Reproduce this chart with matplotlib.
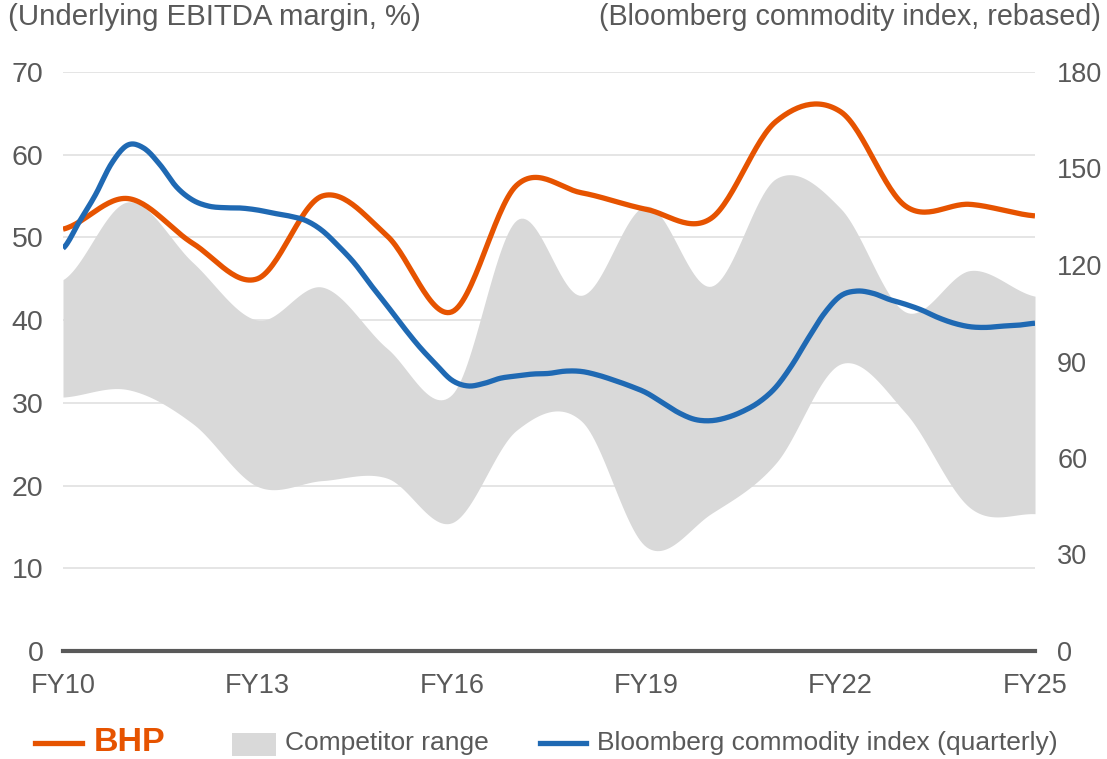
import numpy as np
import matplotlib
matplotlib.use("Agg")
import matplotlib.pyplot as plt
from matplotlib.lines import Line2D
from matplotlib.patches import Rectangle

plt.rcParams['font.family'] = ['Liberation Sans', 'DejaVu Sans']

# ---------------- data ----------------
years = list(range(2010, 2026))
tick_years = [2010, 2013, 2016, 2019, 2022, 2025]
tick_labels = ["FY10", "FY13", "FY16", "FY19", "FY22", "FY25"]

bhp_margin = [51.0, 54.7, 49.3, 45.0, 55.0, 50.2, 41.0, 56.3, 55.4, 53.4,
              52.3, 64.0, 65.2, 53.8, 54.0, 52.6]
competitor_high = [44.9, 54.3, 47.0, 40.0, 44.0, 36.6, 31.0, 52.1, 43.0, 53.8,
                   44.1, 57.1, 53.5, 41.0, 46.0, 42.9]
competitor_low = [30.7, 31.6, 27.5, 19.9, 20.6, 20.9, 15.5, 26.7, 27.8, 12.6,
                  16.6, 22.7, 34.7, 28.8, 17.3, 16.6]

# Bloomberg commodity index (rebased), quarterly FY10 Q4 .. FY25 Q4
bcom_quarterly = [125.2, 133.4, 141.8, 151.6, 157.3, 156.3, 151.1, 144.3,
                  140.2, 138.3, 137.8, 137.7, 137.1, 136.1, 135.2, 133.8,
                  130.7, 125.9, 120.5, 113.8, 107.4, 100.8, 94.6, 89.2,
                  84.2, 82.4, 83.2, 84.8, 85.5, 86.1, 86.3, 87.0,
                  86.9, 85.8, 84.2, 82.4, 80.3, 77.2, 74.1, 72.0,
                  71.6, 72.6, 74.6, 77.5, 82.0, 88.9, 97.2, 105.0,
                  110.4, 111.9, 111.2, 109.3, 107.8, 106.0, 103.7, 101.9,
                  100.8, 100.6, 101.0, 101.3, 101.9]
bcom_x = [2010 + i / 4 for i in range(len(bcom_quarterly))]

# ---------------- smoothing (Excel-like Catmull-Rom) ----------------
def smooth(x, y, n=30):
    x = np.asarray(x, float)
    y = np.asarray(y, float)
    k = len(y)
    m = np.empty(k)
    m[1:-1] = (y[2:] - y[:-2]) / 2
    m[0] = (y[1] - y[0]) / 2
    m[-1] = (y[-1] - y[-2]) / 2
    xs, ys = [], []
    t = np.linspace(0, 1, n, endpoint=False)
    h00 = 2 * t**3 - 3 * t**2 + 1
    h10 = t**3 - 2 * t**2 + t
    h01 = -2 * t**3 + 3 * t**2
    h11 = t**3 - t**2
    for i in range(k - 1):
        xs.append(x[i] + t * (x[i + 1] - x[i]))
        ys.append(h00 * y[i] + h10 * m[i] + h01 * y[i + 1] + h11 * m[i + 1])
    xs.append([x[-1]])
    ys.append([y[-1]])
    return np.concatenate(xs), np.concatenate(ys)

ORANGE = '#E65300'
BLUE = '#1F69B3'
GRAY_FILL = '#D9D9D9'
TXT = '#595959'

fig = plt.figure(figsize=(11.07, 7.59), dpi=100)
ax = fig.add_axes([63 / 1107, 1 - 651 / 759, (1035 - 63) / 1107, (651 - 72) / 759])
ax2 = ax.twinx()

# competitor range
xh, yh = smooth(years, competitor_high)
xl, yl = smooth(years, competitor_low)
ax.fill_between(xh, yl, yh, color=GRAY_FILL, linewidth=0, zorder=1)

# BHP
xb, yb = smooth(years, bhp_margin)
ax.plot(xb, yb, color=ORANGE, lw=3.8, solid_capstyle='butt', zorder=3)

# Bloomberg
xq, yq = smooth(bcom_x, bcom_quarterly, n=12)
ax2.plot(xq, yq, color=BLUE, lw=3.8, solid_capstyle='butt', zorder=3)

# axes formatting
ax.set_xlim(2010, 2025)
ax.set_ylim(0, 70)
ax2.set_ylim(0, 180)
ax.set_yticks(range(0, 71, 10))
ax2.set_yticks(range(0, 181, 30))
ax.set_xticks(tick_years)
ax.set_xticklabels(tick_labels)
ax.set_axisbelow(True)
ax.grid(axis='y', color='#E0E0E0', lw=1.2, zorder=0)
ax.grid(axis='x', visible=False)
for a in (ax, ax2):
    for s in a.spines.values():
        s.set_visible(False)
ax.tick_params(axis='y', length=0, pad=14, labelsize=20.5, labelcolor=TXT)
ax.tick_params(axis='x', length=0, pad=16, labelsize=19.5, labelcolor=TXT)
ax2.tick_params(axis='y', length=0, pad=16, labelsize=19.5, labelcolor=TXT)
ax.axhline(0, color=TXT, lw=3, zorder=5, clip_on=False)

# axis titles
fig.text(8 / 1107, 1 - 17 / 759, "(Underlying EBITDA margin, %)", ha='left', va='center',
         fontsize=21.2, color=TXT)
fig.text(1101 / 1107, 1 - 17 / 759, "(Bloomberg commodity index, rebased)", ha='right',
         va='center', fontsize=20.7, color=TXT)

# legend (manual)
ly = 1 - 743 / 759
fig.add_artist(Line2D([35 / 1107, 82 / 1107], [ly, ly], color=ORANGE, lw=3.8,
                      transform=fig.transFigure))
fig.text(94 / 1107, 1 - 751 / 759, "BHP", ha='left', va='baseline', fontsize=24.5,
         fontweight='bold', color=ORANGE)
fig.add_artist(Rectangle((232 / 1107, 1 - 756 / 759), 44 / 1107, 23 / 759,
                         color=GRAY_FILL, transform=fig.transFigure, lw=0))
fig.text(285 / 1107, ly, "Competitor range", ha='left', va='center', fontsize=19, color=TXT)
fig.add_artist(Line2D([540 / 1107, 586 / 1107], [ly, ly], color=BLUE, lw=3.8,
                      transform=fig.transFigure))
fig.text(597 / 1107, ly, "Bloomberg commodity index (quarterly)", ha='left', va='center',
         fontsize=19, color=TXT)

fig.savefig("out.png", dpi=100)
